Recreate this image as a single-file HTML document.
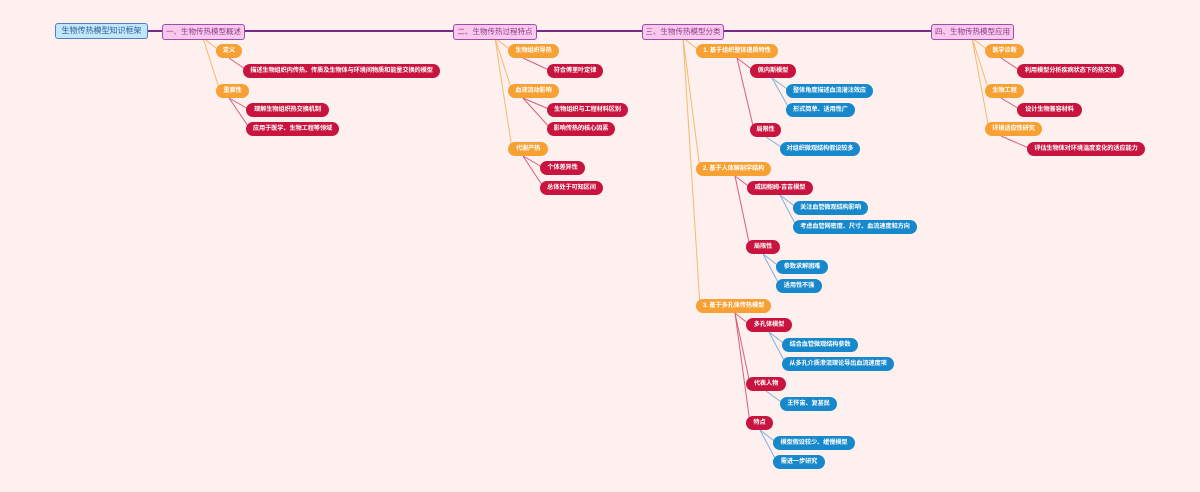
<!DOCTYPE html>
<html><head><meta charset="utf-8"><style>
body{margin:0;width:1200px;height:492px;background:#fdf0ee;position:relative;overflow:hidden;font-family:"Liberation Sans","Noto Sans CJK SC",sans-serif}
.p{position:absolute;height:14px;line-height:14px;border-radius:7px;color:#fff;font-size:6.2px;font-weight:bold;text-align:center;white-space:nowrap;letter-spacing:-0.1px}
.o{background:#f7a033}.r{background:#c8143e}.b{background:#1788cc}
.h{position:absolute;height:14px;line-height:14px;top:24px;background:#f9c8ec;border:1px solid #9b4fa8;border-radius:3px;color:#8a3a8a;font-size:7.5px;text-align:center;white-space:nowrap}
svg{position:absolute;left:0;top:0}
</style></head><body>
<svg width="1200" height="492">
<line x1="148" y1="31" x2="931" y2="31" stroke="#7b2a8a" stroke-width="2"/>
<g stroke="#f6b870" stroke-width="1" fill="none">
<line x1="203" y1="38" x2="220" y2="51"/><line x1="203" y1="38" x2="220" y2="91"/>
<line x1="495" y1="38" x2="512" y2="51"/><line x1="495" y1="38" x2="512" y2="91"/><line x1="495" y1="38" x2="512" y2="149"/>
<line x1="683" y1="38" x2="700" y2="51"/><line x1="683" y1="38" x2="700" y2="169"/><line x1="683" y1="38" x2="700" y2="306"/>
<line x1="972" y1="38" x2="989" y2="51"/><line x1="972" y1="38" x2="989" y2="91"/><line x1="972" y1="38" x2="989" y2="129"/>
</g>
<g stroke="#d4607c" stroke-width="1" fill="none">
<line x1="229" y1="58" x2="248" y2="71"/><line x1="229" y1="98" x2="250" y2="110"/><line x1="229" y1="98" x2="250" y2="129"/>
<line x1="523" y1="58" x2="551" y2="71"/><line x1="523" y1="98" x2="551" y2="110"/><line x1="523" y1="98" x2="551" y2="129"/>
<line x1="523" y1="156" x2="544" y2="168"/><line x1="523" y1="156" x2="544" y2="188"/>
<line x1="737" y1="58" x2="754" y2="71"/><line x1="737" y1="58" x2="754" y2="130"/>
<line x1="735" y1="176" x2="751" y2="188"/><line x1="735" y1="176" x2="750" y2="247"/>
<line x1="735" y1="313" x2="750" y2="325"/><line x1="735" y1="313" x2="750" y2="384"/><line x1="735" y1="313" x2="750" y2="423"/>
<line x1="1001" y1="58" x2="1021" y2="71"/><line x1="1001" y1="98" x2="1021" y2="110"/><line x1="1001" y1="136" x2="1031" y2="149"/>
</g>
<g stroke="#80b0d8" stroke-width="1" fill="none">
<line x1="772" y1="78" x2="790" y2="91"/><line x1="772" y1="78" x2="790" y2="110"/><line x1="766" y1="137" x2="784" y2="149"/>
<line x1="780" y1="195" x2="797" y2="208"/><line x1="780" y1="195" x2="797" y2="227"/>
<line x1="763" y1="254" x2="780" y2="267"/><line x1="763" y1="254" x2="780" y2="286"/>
<line x1="769" y1="332" x2="786" y2="345"/><line x1="769" y1="332" x2="786" y2="364"/>
<line x1="766" y1="391" x2="784" y2="404"/><line x1="760" y1="430" x2="777" y2="443"/><line x1="760" y1="430" x2="777" y2="462"/>
</g>
</svg>
<div style="position:absolute;left:55px;top:23px;width:91px;height:14px;line-height:14px;background:#bfe9fb;border:1px solid #5b7bc0;border-radius:3px;color:#3a5a9a;font-size:8px;text-align:center">生物传热模型知识框架</div>
<div class="h" style="left:162px;width:81px">一、生物传热模型概述</div>
<div class="h" style="left:453px;width:82px">二、生物传热过程特点</div>
<div class="h" style="left:642px;width:80px">三、生物传热模型分类</div>
<div class="h" style="left:931px;width:81px">四、生物传热模型应用</div>

<div class="p o" style="left:216px;top:44px;width:26px">定义</div>
<div class="p r" style="left:243px;top:64px;width:197px">描述生物组织内传热、传质及生物体与环境间物质和能量交换的模型</div>
<div class="p o" style="left:216px;top:84px;width:33px">重要性</div>
<div class="p r" style="left:246px;top:103px;width:83px">理解生物组织热交换机制</div>
<div class="p r" style="left:246px;top:122px;width:93px">应用于医学、生物工程等领域</div>

<div class="p o" style="left:508px;top:44px;width:51px">生物组织导热</div>
<div class="p r" style="left:547px;top:64px;width:56px">符合傅里叶定律</div>
<div class="p o" style="left:508px;top:84px;width:51px">血液流动影响</div>
<div class="p r" style="left:547px;top:103px;width:81px">生物组织与工程材料区别</div>
<div class="p r" style="left:547px;top:122px;width:68px">影响传热的核心因素</div>
<div class="p o" style="left:508px;top:142px;width:40px">代谢产热</div>
<div class="p r" style="left:540px;top:161px;width:45px">个体差异性</div>
<div class="p r" style="left:540px;top:181px;width:63px">总体处于可知区间</div>

<div class="p o" style="left:696px;top:44px;width:82px">1. 基于组织整体递质特性</div>
<div class="p r" style="left:750px;top:64px;width:46px">佩内斯模型</div>
<div class="p b" style="left:786px;top:84px;width:87px">整体角度描述血流灌注效应</div>
<div class="p b" style="left:786px;top:103px;width:69px">形式简单、适用性广</div>
<div class="p r" style="left:750px;top:123px;width:31px">局限性</div>
<div class="p b" style="left:780px;top:142px;width:80px">对组织微观结构假设较多</div>
<div class="p o" style="left:696px;top:162px;width:75px">2. 基于人体解剖学结构</div>
<div class="p r" style="left:747px;top:181px;width:66px">威因鲍姆-吉吉模型</div>
<div class="p b" style="left:793px;top:201px;width:75px">关注血管微观结构影响</div>
<div class="p b" style="left:793px;top:220px;width:124px">考虑血管网密度、尺寸、血流速度和方向</div>
<div class="p r" style="left:746px;top:240px;width:34px">局限性</div>
<div class="p b" style="left:776px;top:260px;width:52px">参数求解困难</div>
<div class="p b" style="left:776px;top:279px;width:46px">适用性不强</div>
<div class="p o" style="left:696px;top:299px;width:75px">3. 基于多孔体传热模型</div>
<div class="p r" style="left:746px;top:318px;width:46px">多孔体模型</div>
<div class="p b" style="left:782px;top:338px;width:76px">结合血管微观结构参数</div>
<div class="p b" style="left:782px;top:357px;width:112px">从多孔介质渗流理论导出血流速度项</div>
<div class="p r" style="left:746px;top:377px;width:40px">代表人物</div>
<div class="p b" style="left:780px;top:397px;width:57px">王怀宙、复甚民</div>
<div class="p r" style="left:746px;top:416px;width:27px">特点</div>
<div class="p b" style="left:773px;top:436px;width:82px">模型假设较少、缓慢模型</div>
<div class="p b" style="left:773px;top:455px;width:52px">需进一步研究</div>

<div class="p o" style="left:985px;top:44px;width:39px">医学诊断</div>
<div class="p r" style="left:1017px;top:64px;width:107px">利用模型分析疾病状态下的热交换</div>
<div class="p o" style="left:985px;top:84px;width:39px">生物工程</div>
<div class="p r" style="left:1017px;top:103px;width:65px">设计生物兼容材料</div>
<div class="p o" style="left:985px;top:122px;width:57px">环境适应性研究</div>
<div class="p r" style="left:1027px;top:142px;width:118px">评估生物体对环境温度变化的适应能力</div>
</body></html>
